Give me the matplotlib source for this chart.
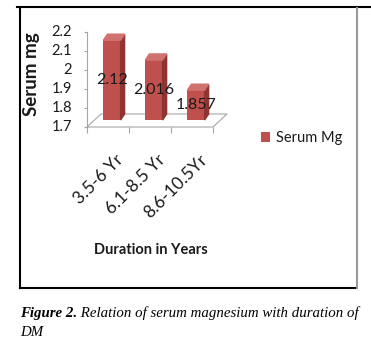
import matplotlib as mpl
import matplotlib.pyplot as plt
from matplotlib.patches import Polygon
from matplotlib.lines import Line2D
from matplotlib.transforms import offset_copy

plt.rcParams['font.family'] = ['Lato', 'DejaVu Sans']

W, H = 371, 346
dpi = 100

categories = ['3.5-6 Yr', '6.1-8.5 Yr', '8.6-10.5Yr']
serum_mg = [2.12, 2.016, 1.857]
y_ticks = [1.7, 1.8, 1.9, 2.0, 2.1, 2.2]
y_tick_labels = ['1.7', '1.8', '1.9', '2', '2.1', '2.2']
series_name = 'Serum Mg'

front_col = '#c0504d'
side_col = '#8e3432'
top_col = '#d0726f'
edge_gray = '#a6a6a6'
text_col = '#1a1a1a'


def px(x, y):
    # pixel position from top-left -> figure fraction
    return x / W, 1 - y / H


fig = plt.figure(figsize=(W / dpi, H / dpi), dpi=dpi)

l, b = px(87, 127)
r, t = px(213, 32)
ax = fig.add_axes([l, b, r - l, t - b])
y0, y1 = y_ticks[0], y_ticks[-1]
n = len(categories)
ax.set_xlim(-0.5, n - 0.5)
ax.set_ylim(y0, y1)
ax.patch.set_visible(False)
for s in ax.spines.values():
    s.set_visible(False)

# fake depth, in data units
ux = 1 / 42.0
uy = (y1 - y0) / 95.0
floor_dx, floor_dy = 14 * ux, 13 * uy
shift_dx, shift_dy = 4 * ux, 7 * uy
depth_dx, depth_dy = 4 * ux, 6 * uy
bw = 0.41

floor = Polygon([(-0.5, y0), (n - 0.5, y0),
                 (n - 0.5 + floor_dx, y0 + floor_dy), (-0.5 + floor_dx, y0 + floor_dy)],
                closed=True, fill=False, ec=edge_gray, lw=0.8, clip_on=False, zorder=1)
ax.add_patch(floor)
ax.plot([-0.5, -0.5], [y0, y1], color=edge_gray, lw=0.8, clip_on=False, zorder=1)

xs = [i + shift_dx for i in range(n)]
bars = ax.bar(xs, [v - y0 for v in serum_mg], bottom=y0 + shift_dy, width=bw,
              color=front_col, label=series_name, zorder=3, clip_on=False)
for x, v in zip(xs, serum_mg):
    xl, xr = x - bw / 2, x + bw / 2
    top = v + shift_dy
    bot = y0 + shift_dy
    ax.add_patch(Polygon([(xr, bot), (xr + depth_dx, bot + depth_dy),
                          (xr + depth_dx, top + depth_dy), (xr, top)],
                         color=side_col, zorder=3, clip_on=False))
    ax.add_patch(Polygon([(xl, top), (xr, top), (xr + depth_dx, top + depth_dy),
                          (xl + depth_dx, top + depth_dy)],
                         color=top_col, zorder=3, clip_on=False))
    ax.text(x, (bot + top) / 2, str(v), ha='center', va='center',
            fontsize=11.5, color=text_col, zorder=5)

# y ticks: short gray marks, labels placed well clear of the axis
ax.set_yticks(y_ticks)
ax.set_yticklabels([])
ax.tick_params(axis='y', length=2, width=0.8, color=edge_gray)
ytl_tr = offset_copy(ax.transData, fig=fig, x=-15, y=0, units='dots')
for v, s in zip(y_ticks, y_tick_labels):
    ax.text(-0.5, v, s, transform=ytl_tr, ha='right', va='center',
            fontsize=10.5, color=text_col, clip_on=False)

ax.set_xticks([i - 0.5 for i in range(n + 1)])
ax.set_xticklabels([])
ax.tick_params(axis='x', length=4, width=0.8, color=edge_gray)

lab_tr = offset_copy(ax.get_xaxis_transform(), fig=fig, x=7, y=-25, units='dots')
for i, c in enumerate(categories):
    ax.text(i, 0, c, transform=lab_tr, rotation=45, ha='right', va='top',
            rotation_mode='anchor', fontsize=12.5, color=text_col)

fig.text(*px(32, 74), 'Serum mg', rotation=90, ha='center', va='center',
         fontsize=13.5, fontweight='bold', color=text_col)
fig.text(*px(151, 250), 'Duration in Years', ha='center', va='center',
         fontsize=10.5, fontweight='bold', color=text_col)

ax.legend(handles=[bars], loc='center left', bbox_to_anchor=px(261, 138),
          bbox_transform=fig.transFigure, frameon=False, fontsize=10.5,
          handlelength=0.65, handleheight=0.75, handletextpad=0.35,
          borderpad=0, borderaxespad=0, labelcolor=text_col)

# frame around the chart
for (xa, ya), (xb, yb), col in [((17, 6.5), (371, 6.5), 'black'),
                                ((19.5, 6.5), (19.5, 288), 'black'),
                                ((19.5, 288), (357, 288), 'black'),
                                ((356.5, 8), (356.5, 288), '#9a9a9a')]:
    p0, p1 = px(xa, ya), px(xb, yb)
    fig.add_artist(Line2D([p0[0], p1[0]], [p0[1], p1[1]], color=col, lw=1.5,
                          transform=fig.transFigure))

serif = ['Liberation Serif', 'DejaVu Serif']
cap1 = fig.text(*px(20, 317), 'Figure 2.', ha='left', va='baseline', family=serif,
                style='italic', fontweight='bold', fontsize=10.75, color='black')
ax.annotate(' Relation of serum magnesium with duration of', xy=(1, 0), xycoords=cap1,
            ha='left', va='bottom', family=serif, style='italic', fontsize=10.75,
            color='black', annotation_clip=False)
fig.text(*px(20, 336), 'DM', ha='left', va='baseline', family=serif,
         style='italic', fontsize=10.75, color='black')

fig.savefig('out.png', dpi=dpi)
